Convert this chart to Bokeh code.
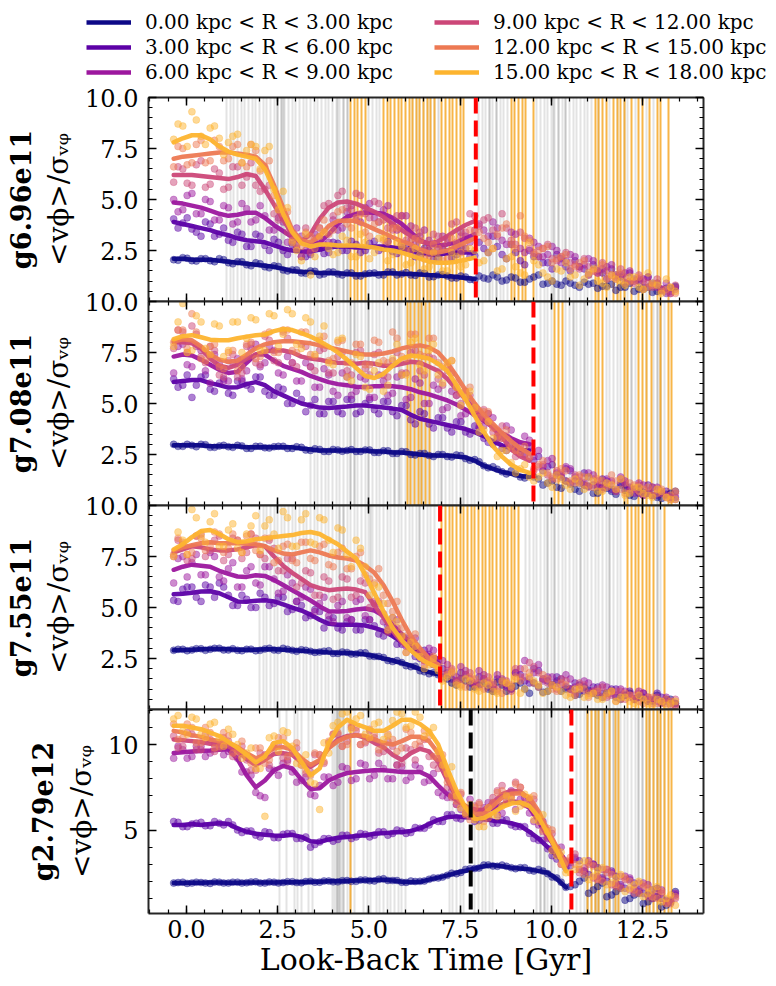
from bokeh.plotting import figure
from bokeh.models import (Range1d, LinearAxis, SingleIntervalTicker, Span, Title, Legend, LegendItem,
                          PrintfTickFormatter)
from bokeh.layouts import column
from bokeh.embed import file_html
from bokeh.resources import INLINE

FONT = "DejaVu Serif"
NAN = float("nan")

RADIUS_LABELS = ["0.00 kpc < R < 3.00 kpc", "3.00 kpc < R < 6.00 kpc", "6.00 kpc < R < 9.00 kpc",
                 "9.00 kpc < R < 12.00 kpc", "12.00 kpc < R < 15.00 kpc", "15.00 kpc < R < 18.00 kpc"]
COLORS = ["#0d0887", "#5c01a6", "#9c179e", "#cc4778", "#ed7953", "#fdb42f"]
GALAXIES = ["g6.96e11", "g7.08e11", "g7.55e11", "g2.79e12"]
X_LABEL = "Look-Back Time [Gyr]"
Y_LABEL = "<vϕ>/σᵥᵩ"

# snapshot times of the smoothed curves and of the first set of points
TIME = [-0.35, -0.10, 0.15, 0.40, 0.65, 0.90, 1.15, 1.40, 1.65, 1.90, 2.15, 2.40, 2.65, 2.90,
        3.15, 3.40, 3.65, 3.90, 4.15, 4.40, 4.65, 4.90, 5.15, 5.40, 5.65, 5.90, 6.15, 6.40,
        6.65, 6.90, 7.15, 7.40, 7.65, 7.90, 8.15, 8.40, 8.65, 8.90, 9.15, 9.40, 9.65, 9.90,
        10.15, 10.40, 10.65, 10.90, 11.15, 11.40, 11.65, 11.90, 12.15, 12.40, 12.65, 12.90,
        13.15, 13.40]
# snapshot times of the intermediate points
TIME_MID = [-0.23, 0.02, 0.27, 0.52, 0.77, 1.02, 1.27, 1.52, 1.77, 2.02, 2.27, 2.52, 2.77, 3.02,
            3.27, 3.52, 3.77, 4.02, 4.27, 4.52, 4.77, 5.02, 5.27, 5.52, 5.77, 6.02, 6.27, 6.52,
            6.77, 7.02, 7.27, 7.52, 7.77, 8.02, 8.27, 8.52, 8.77, 9.02, 9.27, 9.52, 9.77, 10.02,
            10.27, 10.52, 10.77, 11.02, 11.27, 11.52, 11.77, 12.02, 12.27, 12.52, 12.77, 13.02, 13.27]

# ---------------- panel 1 : g6.96e11 ----------------
P1_L0 = [2.1, 2.1, 2.05, 2.05, 2.05, 2.0, 1.95, 1.9, 1.85, 1.8, 1.75, 1.7, 1.6, 1.5, 1.45, 1.45, 1.4, 1.4, 1.38, 1.35, 1.32, 1.32, 1.35, 1.38, 1.38, 1.36, 1.35, 1.33, 1.3, 1.28, 1.25, 1.2, 1.15, 1.1]
P1_L1 = [3.9, 3.8, 3.7, 3.6, 3.5, 3.35, 3.25, 3.1, 3.0, 2.95, 2.9, 2.75, 2.6, 2.5, 2.45, 2.45, 2.55, 2.65, 2.7, 2.7, 2.65, 2.65, 2.7, 2.7, 2.65, 2.6, 2.5, 2.4, 2.3, 2.3, 2.35, 2.4, 2.4, 2.4]
P1_L2 = [4.85, 4.8, 4.7, 4.6, 4.45, 4.3, 4.2, 4.25, 4.35, 4.35, 4.1, 3.75, 3.45, 3.15, 2.9, 2.75, 2.9, 3.3, 3.8, 4.15, 4.3, 4.35, 4.35, 4.3, 4.1, 3.8, 3.4, 3.0, 2.8, 2.75, 2.8, 2.9, 3.1, 3.3]
P1_L3 = [6.2, 6.2, 6.2, 6.15, 6.1, 6.05, 6.0, 6.1, 6.25, 6.15, 5.5, 4.75, 4.0, 3.3, 2.95, 3.3, 4.05, 4.6, 4.85, 4.9, 4.8, 4.6, 4.4, 4.15, 3.8, 3.5, 3.2, 2.95, 2.85, 2.95, 3.2, 3.5, 3.75, 3.95]
P1_L4 = [7.0, 7.1, 7.15, 7.2, 7.25, 7.3, 7.32, 7.25, 7.2, 7.1, 6.7, 5.7, 4.6, 3.5, 3.0, 2.9, 3.2, 3.7, 3.95, 3.97, 3.95, 3.75, 3.55, 3.35, 3.15, 2.95, 2.8, 2.55, 2.4, 2.4, 2.5, 2.7, 2.9, 3.1]
P1_L5 = [7.8, 8.0, 8.15, 8.15, 7.95, 7.6, 7.35, 7.2, 7.1, 7.0, 6.5, 5.5, 4.3, 3.4, 2.85, 2.7, 2.8, 2.8, 2.75, 2.75, 2.75, 2.7, 2.65, 2.55, 2.5, 2.4, 2.25, 2.1, 1.95, 1.9, 1.9, 1.95, 2.05, 2.15]
P1_S0 = [2.05, 2.15, 2.0, 2.1, 2.0, 2.1, 1.9, 1.95, 1.8, 1.9, 1.7, 1.75, 1.55, 1.55, 1.4, 1.5, 1.3, 1.45, 1.35, 1.4, 1.25, 1.35, 1.4, 1.3, 1.45, 1.35, 1.3, 1.4, 1.2, 1.3, 1.25, 1.15, 1.2, 1.05,
         1.15, 1.3, 1.0, 1.2, 0.95, 1.1, 1.3, 0.9, 0.85, 1.0, 0.8, 0.95, 0.9, 0.75, 0.85, 0.7, 0.9, 0.6, 0.7, 0.5, 0.65, 0.75]
P1_S1 = [4.05, 3.85, 3.55, 3.2, 3.8, 3.3, 3.0, 3.4, 2.7, 3.3, 2.75, 3.05, 2.5, 2.8, 2.2, 2.3, 2.6, 2.4, 2.85, 2.5, 2.8, 2.5, 2.95, 2.6, 2.45, 2.8, 2.6, 2.2, 2.5, 2.1, 2.45, 2.3, 2.6, 2.25,
         2.6, 3.2, 2.3, 2.8, 2.0, 2.5, 2.2, 1.9, 2.3, 1.7, 2.0, 1.6, 1.8, 1.4, 1.6, 1.2, 1.4, 1.0, 1.2, 0.9, 0.4, 0.7]
P1_S2 = [5.0, 4.5, 5.3, 4.3, 4.9, 4.0, 4.6, 3.9, 4.55, 4.0, 4.2, 3.5, 3.9, 2.9, 3.2, 2.6, 3.2, 2.9, 3.5, 4.4, 4.0, 4.6, 4.1, 4.5, 3.8, 4.2, 3.7, 3.2, 3.0, 2.6, 3.1, 2.7, 3.2, 3.5,
         3.5, 3.9, 3.0, 3.4, 2.6, 3.1, 2.7, 2.3, 2.5, 2.0, 2.2, 1.8, 2.0, 1.6, 1.8, 1.3, 1.5, 1.1, 1.2, 0.7, 0.9, 0.6]
P1_S3 = [5.85, 6.5, 5.7, 6.9, 5.75, 6.3, 5.6, 6.6, 6.1, 5.7, 5.5, 4.3, 4.1, 3.2, 2.2, 2.4, 3.6, 4.8, 5.2, 4.6, 5.3, 4.3, 4.9, 4.0, 3.5, 4.2, 3.0, 3.4, 2.6, 3.2, 2.9, 3.9, 3.4, 4.2,
         4.0, 3.5, 4.3, 3.0, 3.4, 2.6, 2.2, 2.8, 2.0, 2.4, 1.8, 2.1, 1.5, 1.9, 1.3, 1.6, 1.0, 1.3, 0.9, 1.1, 0.5, 0.8]
P1_S4 = [6.6, 7.5, 6.8, 7.9, 6.9, 7.6, 7.0, 7.7, 6.6, 7.4, 6.6, 5.2, 4.3, 3.0, 2.7, 3.2, 3.6, 3.3, 4.4, 3.8, 4.1, 3.4, 3.8, 3.0, 3.6, 2.8, 2.5, 3.0, 2.2, 2.6, 2.1, 2.9, 2.6, 3.4,
         3.1, 2.6, 3.6, 2.8, 4.2, 3.0, 2.5, 2.7, 2.1, 2.3, 1.7, 2.0, 1.5, 1.8, 1.2, 1.4, 1.0, 1.2, 0.7, 0.9, 0.6, 0.4]
P1_S5 = [7.95, 8.6, 9.3, 8.1, 8.5, 8.0, 7.8, 8.2, 7.4, 7.6, 7.4, 5.5, 5.4, 2.9, 2.0, 1.3, 3.2, 2.6, 2.4, 3.0, 2.2, 2.9, 2.4, 3.1, 2.3, 2.7, 1.9, 2.3, 1.7, 2.1, 1.5, 2.2, 1.8, 2.5,
         2.0, 2.6, 1.6, 2.2, 1.4, 2.9, 1.8, 1.2, 1.6, 1.9, 1.3, 1.1, 1.6, 0.9, 1.3, 1.0, 1.2, 0.7, 1.4, 0.8, 1.1, 0.5]
P1_M0 = [2.02, 2.12, 1.98, 2.1, 1.95, 2.05, 1.85, 1.95, 1.75, 1.85, 1.65, 1.72, 1.5, 1.55, 1.38, 1.48, 1.35, 1.45, 1.3, 1.4, 1.25, 1.38, 1.3, 1.45, 1.3, 1.42, 1.28, 1.38, 1.22, 1.32, 1.15, 1.25, 1.08,
         1.25, 1.1, 1.2, 1.05, 1.15, 0.95, 1.2, 0.85, 1.0, 0.8, 0.9, 0.7, 0.85, 0.65, 0.75, 0.55, 0.7, 0.5, 0.6, 0.45, 0.55, 0.65]
P1_M1 = [3.6, 4.1, 3.4, 3.9, 3.2, 3.6, 2.9, 3.3, 2.7, 3.2, 2.5, 2.9, 2.3, 2.75, 2.2, 2.7, 2.35, 2.9, 2.5, 2.95, 2.4, 2.85, 2.5, 2.95, 2.35, 2.8, 2.2, 2.6, 2.05, 2.55, 2.15, 2.65, 2.2,
         2.9, 2.4, 2.7, 2.1, 2.4, 1.8, 2.2, 1.9, 1.6, 2.1, 1.5, 1.7, 1.3, 1.5, 1.1, 1.3, 0.9, 1.1, 0.7, 0.9, 0.6, 0.5]
P1_M2 = [4.4, 5.2, 4.3, 5.0, 4.0, 4.7, 3.8, 4.8, 3.9, 4.7, 3.5, 4.1, 2.9, 3.6, 2.5, 3.3, 2.8, 4.0, 3.6, 4.7, 3.9, 4.8, 3.9, 4.7, 3.5, 4.2, 2.8, 3.5, 2.4, 3.2, 2.5, 3.4, 2.9,
         3.8, 3.2, 3.6, 2.8, 3.3, 2.4, 2.9, 2.2, 2.7, 1.9, 2.3, 1.7, 2.1, 1.4, 1.7, 1.2, 1.4, 1.0, 1.1, 0.8, 0.6, 0.4]
P1_M3 = [6.6, 5.8, 6.7, 5.6, 6.5, 5.5, 6.6, 5.7, 6.8, 5.4, 5.7, 4.0, 3.4, 2.6, 3.6, 3.1, 4.7, 4.2, 5.4, 4.5, 5.2, 4.1, 4.8, 3.6, 4.2, 3.0, 3.6, 2.5, 3.3, 2.7, 3.8, 3.2, 4.3,
         3.7, 4.1, 3.2, 3.6, 2.8, 3.1, 2.4, 2.6, 2.1, 2.2, 1.9, 1.6, 1.7, 1.4, 1.5, 1.1, 1.2, 0.9, 1.0, 0.7, 0.6, 0.4]
P1_M4 = [7.6, 6.7, 7.7, 6.8, 7.9, 6.9, 7.6, 6.8, 7.7, 6.4, 6.9, 4.7, 4.4, 2.8, 3.4, 2.6, 4.0, 3.5, 4.5, 3.6, 4.3, 3.2, 3.9, 2.9, 3.6, 2.5, 3.1, 2.1, 2.8, 2.0, 3.1, 2.4, 3.5,
         3.4, 2.9, 3.3, 3.8, 2.6, 3.2, 2.3, 2.6, 1.9, 2.2, 1.6, 1.9, 1.3, 1.6, 1.1, 1.3, 0.9, 1.0, 0.6, 0.8, 0.5, 0.7]
P1_M5 = [8.7, 7.6, 8.9, 7.7, 8.6, 7.2, 8.1, 6.8, 7.7, 6.5, 7.6, 4.5, 4.6, 2.5, 3.3, 2.2, 3.4, 2.3, 3.2, 2.2, 3.3, 2.1, 3.1, 2.0, 2.9, 1.8, 2.6, 1.6, 2.4, 1.5, 2.4, 1.7, 2.6,
         1.9, 2.4, 1.5, 2.1, 1.7, 1.3, 2.0, 1.4, 1.0, 1.5, 1.2, 0.8, 1.4, 1.0, 0.7, 1.1, 0.8, 1.2, 0.6, 0.9, 0.4, 0.7]
P1_GREY = [1.1, 1.2, 1.3, 1.4, 1.5, 1.6, 1.7, 1.8, 1.9, 2.0, 2.1, 2.2, 2.3, 2.4, 2.5, 2.6, 2.7, 2.8, 2.9, 3.0, 3.1, 3.2, 3.3, 3.4, 3.5, 3.6, 3.7, 3.8, 3.9, 4.0, 4.1, 4.2, 4.3, 4.4,
           5.0, 5.1, 5.2, 5.3, 6.2, 6.3, 6.4, 6.5, 6.6, 6.7, 6.8, 8.0, 8.1, 8.2, 8.3, 8.4, 8.5, 8.6, 8.7, 8.8, 9.6, 9.7, 9.8, 9.9, 10.0,
           10.1, 10.2, 10.3, 10.4, 10.5, 10.6, 10.7, 10.8, 10.9, 11.0, 11.1, 11.6, 11.8, 12.1, 12.3, 12.6, 12.8]
P1_DARK = [2.5, 2.6, 2.65, 4.15, 4.3, 4.4, 6.9, 8.3, 8.5, 10.05, 10.2, 10.4, 11.3, 12.0]
P1_ORANGE = [4.5, 4.6, 4.7, 4.8, 4.9, 5.4, 5.5, 5.6, 5.7, 5.8, 5.9, 6.0, 6.1, 6.2, 6.3, 6.4, 6.5, 6.6, 6.7, 6.8, 7.0, 7.1, 7.2, 7.3, 7.4, 7.5, 7.6,
             8.9, 9.0, 9.1, 9.2, 9.3, 9.5, 11.2, 11.3, 11.4, 11.5, 11.7, 11.8, 11.9, 12.0, 12.2, 12.4, 12.5, 12.7, 12.9, 13.0, 13.2]

# ---------------- panel 2 : g7.08e11 ----------------
P2_L0 = [2.95, 2.95, 2.95, 2.95, 2.9, 2.9, 2.9, 2.9, 2.85, 2.85, 2.85, 2.85, 2.85, 2.85, 2.8, 2.75, 2.7, 2.7, 2.7, 2.7, 2.7, 2.7, 2.65, 2.65, 2.6, 2.6, 2.55, 2.5, 2.45, 2.45, 2.45, 2.4, 2.35, 2.2, 1.95, 1.8, 1.65, 1.55, 1.45, 1.4]
P2_L1 = [6.05, 6.1, 6.15, 6.15, 6.0, 5.9, 5.78, 5.8, 5.95, 6.05, 5.9, 5.6, 5.4, 5.2, 5.0, 4.9, 4.8, 4.78, 4.82, 4.85, 4.9, 4.9, 4.85, 4.8, 4.75, 4.68, 4.45, 4.25, 4.15, 4.05, 3.95, 3.85, 3.75, 3.6, 3.4, 3.15, 2.95, 2.8, 2.72, 2.7]
P2_L2 = [7.3, 7.4, 7.35, 7.15, 6.9, 6.65, 6.5, 6.55, 7.0, 7.4, 7.4, 7.1, 6.85, 6.7, 6.55, 6.35, 6.2, 6.05, 5.95, 5.9, 5.82, 5.8, 5.85, 5.85, 5.85, 5.8, 5.7, 5.55, 5.45, 5.3, 5.15, 4.95, 4.7, 4.45, 4.15, 3.85, 3.55, 3.3, 3.1, 3.0]
P2_L3 = [8.0, 8.0, 7.95, 7.7, 7.2, 6.85, 6.75, 6.9, 7.2, 7.4, 7.55, 7.6, 7.6, 7.5, 7.3, 7.2, 7.15, 7.05, 7.0, 6.98, 6.95, 7.0, 6.95, 6.85, 6.85, 6.95, 7.05, 7.0, 6.8, 6.6, 6.2, 5.7, 5.2, 4.7, 4.25, 3.8, 3.35, 2.75, 2.4, 2.2]
P2_L4 = [8.05, 8.15, 8.1, 7.8, 7.4, 7.15, 7.05, 7.1, 7.4, 7.7, 7.9, 8.0, 8.05, 8.05, 8.0, 7.95, 7.85, 7.75, 7.65, 7.55, 7.45, 7.4, 7.4, 7.45, 7.55, 7.7, 7.8, 7.85, 7.75, 7.5, 7.0, 6.35, 5.65, 5.0, 4.45, 4.0, 3.55, 3.15, 2.8, 2.55]
P2_L5 = [8.15, 8.3, 8.35, 8.25, 8.13, 8.1, 8.1, 8.2, 8.28, 8.35, 8.38, 8.55, 8.65, 8.6, 8.45, 8.28, 8.05, 7.8, 7.5, 7.15, 6.75, 6.35, 6.25, 6.45, 6.85, 7.2, 7.35, 7.3, 7.2, 6.95, 6.6, 5.9, 5.2, 4.4, 3.6, 2.9, 2.4, 2.0, 1.75, 1.6]
P2_S0 = [3.0, 2.9, 2.95, 3.0, 2.85, 2.92, 2.88, 2.95, 2.8, 2.9, 2.83, 2.88, 2.9, 2.8, 2.85, 2.7, 2.75, 2.65, 2.72, 2.7, 2.65, 2.72, 2.6, 2.68, 2.55, 2.65, 2.5, 2.55, 2.45, 2.5, 2.4, 2.48, 2.3, 2.25, 1.95, 1.9, 1.65, 1.7, 1.4, 1.5,
         1.3, 1.1, 0.9, 1.2, 0.8, 1.0, 0.6, 0.9, 0.7, 1.0, 0.5, 0.8, 0.6, 0.4, 0.55, 0.7]
P2_S1 = [6.2, 5.9, 5.3, 6.3, 5.7, 6.0, 5.5, 6.1, 5.9, 6.3, 5.6, 5.4, 5.7, 5.0, 5.2, 4.9, 4.5, 5.1, 4.6, 5.2, 4.5, 5.0, 4.7, 5.1, 4.6, 4.9, 4.2, 4.6, 4.0, 4.3, 3.8, 4.1, 3.6, 3.9, 3.3, 3.0, 2.8, 3.1, 2.6, 2.9,
         2.4, 1.9, 1.5, 1.8, 1.2, 1.6, 1.0, 1.3, 0.8, 1.1, 0.9, 0.6, 1.0, 0.5, 0.7, 0.4]
P2_S2 = [6.5, 7.9, 6.8, 7.6, 6.0, 7.0, 6.1, 7.2, 6.6, 7.9, 7.0, 7.6, 6.4, 7.0, 6.1, 6.8, 5.8, 6.4, 5.4, 6.3, 5.6, 6.2, 5.3, 6.1, 5.5, 6.4, 5.3, 6.0, 5.0, 5.7, 4.8, 5.4, 4.5, 4.8, 3.9, 4.3, 3.3, 3.7, 2.9, 3.2,
         2.7, 2.2, 1.6, 1.9, 1.4, 1.1, 1.5, 0.9, 1.2, 1.4, 0.8, 1.1, 0.7, 0.9, 0.5, 0.3]
P2_S3 = [7.7, 8.5, 8.8, 7.3, 7.8, 6.4, 7.1, 6.3, 7.8, 7.0, 8.3, 7.1, 8.5, 7.0, 7.9, 6.8, 7.6, 6.5, 7.3, 6.6, 7.5, 6.7, 7.4, 6.4, 7.1, 6.5, 7.5, 6.6, 7.3, 6.2, 6.6, 5.4, 5.6, 4.5, 4.7, 3.6, 3.9, 2.8, 2.7, 2.3,
         1.9, 1.5, 1.7, 1.2, 1.5, 1.0, 1.3, 0.8, 1.1, 1.3, 0.7, 1.0, 0.6, 0.8, 0.4, 0.6]
P2_S4 = [8.0, 8.6, 9.4, 7.2, 7.8, 6.8, 7.5, 6.6, 7.9, 7.2, 8.4, 7.5, 8.6, 7.6, 8.5, 7.4, 8.1, 7.1, 8.0, 7.0, 7.9, 6.9, 8.1, 7.1, 8.5, 7.3, 8.4, 7.4, 8.2, 7.0, 6.8, 6.0, 5.4, 4.7, 4.6, 3.8, 3.3, 2.9, 2.6, 2.4,
         2.0, 1.6, 1.3, 1.7, 1.1, 1.4, 0.9, 1.2, 1.5, 0.8, 1.1, 0.7, 0.9, 0.6, 0.4, 0.7]
P2_S5 = [7.8, 9.9, 7.6, 9.0, 7.4, 8.8, 7.6, 9.0, 8.2, 9.1, 7.6, 9.3, 8.4, 9.4, 7.7, 9.0, 8.3, 7.0, 8.1, 6.3, 7.4, 5.8, 6.6, 5.6, 7.2, 6.4, 8.0, 6.9, 7.6, 6.4, 7.0, 5.8, 5.3, 4.8, 3.7, 3.3, 2.7, 2.1, 1.8, 1.4,
         1.4, 1.1, 1.5, 1.0, 1.3, 0.8, 1.2, 0.7, 1.0, 1.3, 0.6, 0.9, 0.5, 0.8, 0.4, 0.3]
P2_M0 = [2.9, 3.0, 2.88, 2.98, 2.85, 2.95, 2.85, 2.92, 2.8, 2.9, 2.82, 2.9, 2.8, 2.88, 2.72, 2.78, 2.65, 2.75, 2.66, 2.74, 2.65, 2.72, 2.6, 2.68, 2.55, 2.63, 2.48, 2.55, 2.4, 2.5, 2.38, 2.45, 2.22, 2.15, 1.85, 1.78, 1.55, 1.55, 1.35,
         1.4, 1.0, 1.2, 0.85, 1.05, 0.7, 0.95, 0.6, 0.85, 0.55, 0.75, 0.45, 0.65, 0.5, 0.35, 0.6]
P2_M1 = [5.8, 6.4, 5.9, 6.4, 5.6, 6.2, 5.4, 6.1, 5.7, 6.3, 5.4, 5.8, 5.0, 5.5, 4.6, 5.2, 4.5, 5.1, 4.5, 5.2, 4.6, 5.2, 4.5, 5.1, 4.4, 4.9, 4.0, 4.5, 3.8, 4.3, 3.6, 4.1, 3.5, 3.8, 3.1, 3.3, 2.7, 3.0, 2.5,
         2.2, 1.7, 2.0, 1.4, 1.7, 1.1, 1.4, 0.9, 1.2, 0.7, 1.0, 0.8, 0.5, 0.9, 0.6, 0.4]
P2_M2 = [7.8, 6.9, 7.8, 6.6, 7.4, 6.1, 7.0, 6.2, 7.7, 6.8, 7.8, 6.5, 7.3, 6.1, 7.0, 5.8, 6.7, 5.6, 6.5, 5.4, 6.3, 5.3, 6.4, 5.4, 6.3, 5.2, 6.2, 5.0, 5.9, 4.7, 5.6, 4.4, 5.1, 3.9, 4.5, 3.4, 3.9, 2.9, 3.4,
         2.4, 1.9, 2.3, 1.5, 1.8, 1.2, 1.6, 1.0, 1.3, 0.8, 1.2, 0.6, 1.0, 0.5, 0.7, 0.4]
P2_M3 = [8.6, 7.5, 8.4, 7.0, 7.6, 6.3, 7.4, 6.5, 7.9, 6.9, 8.1, 7.0, 8.2, 6.8, 7.8, 6.6, 7.7, 6.5, 7.5, 6.4, 7.6, 6.4, 7.5, 6.3, 7.5, 6.5, 7.6, 6.4, 7.2, 5.9, 6.5, 5.0, 5.4, 4.1, 4.5, 3.3, 3.4, 2.4, 2.5,
         1.7, 2.0, 1.3, 1.6, 1.1, 1.4, 0.9, 1.2, 1.0, 0.7, 1.1, 0.8, 0.5, 0.9, 0.6, 0.3]
P2_M4 = [8.6, 7.7, 8.5, 7.1, 7.9, 6.7, 7.6, 6.8, 8.0, 7.3, 8.5, 7.5, 8.6, 7.5, 8.5, 7.3, 8.3, 7.2, 8.1, 7.0, 7.9, 6.9, 8.0, 7.0, 8.2, 7.2, 8.4, 7.3, 8.2, 6.8, 7.1, 5.5, 5.8, 4.3, 4.6, 3.4, 3.7, 2.7, 2.9,
         1.8, 2.2, 1.4, 1.8, 1.2, 1.5, 1.0, 1.3, 0.9, 1.2, 0.6, 1.0, 0.8, 0.5, 0.8, 0.5]
P2_M5 = [9.0, 7.5, 9.3, 7.7, 8.9, 7.3, 9.0, 7.5, 9.2, 7.6, 9.4, 7.8, 9.6, 7.9, 9.2, 7.4, 8.8, 6.9, 8.2, 6.1, 7.3, 5.7, 7.0, 5.9, 7.9, 6.4, 8.2, 6.6, 7.9, 6.0, 7.1, 4.9, 5.6, 3.6, 4.1, 2.4, 2.7, 1.6, 2.0,
         1.2, 1.6, 0.9, 1.3, 0.8, 1.1, 1.4, 0.7, 1.1, 0.8, 0.5, 0.9, 0.6, 0.4, 0.7, 0.3]
P2_GREY = [3.4, 3.5, 3.6, 3.7, 3.8, 3.9, 4.0, 4.1, 4.2, 4.3, 4.4, 4.5, 4.6, 4.7, 4.8, 4.9, 5.0, 5.1, 5.2, 5.3, 5.4, 5.5, 5.6, 5.7, 5.8, 5.9, 6.0, 6.1, 6.2, 6.3,
           6.4, 6.5, 6.6, 6.7, 6.8, 6.9, 7.0, 7.1, 7.2, 7.3, 7.4, 7.5, 7.6, 7.7, 7.8, 7.9, 8.0, 8.1, 9.7, 9.8, 9.9, 10.0, 10.4, 10.5, 10.6, 10.7, 10.8, 10.9,
           11.0, 11.1, 11.5, 11.6, 11.7, 11.8, 11.9, 12.0, 12.1, 12.2, 12.3, 12.6, 12.8, 12.9, 13.0, 13.1]
P2_DARK = [4.5, 4.6, 5.0, 5.7, 5.85, 6.45, 7.0, 7.6, 10.6, 10.9, 12.2, 12.9, 13.0]
P2_ORANGE = [6.05, 6.15, 6.25, 6.35, 6.45, 6.55, 6.65, 10.1, 10.2, 10.3, 11.2, 11.3, 11.4, 12.0, 12.1, 12.4, 12.5, 12.6, 12.75, 13.0, 13.2, 13.3]

# ---------------- panel 3 : g7.55e11 ----------------
P3_L0 = [2.9, 2.92, 2.93, 2.95, 2.97, 2.97, 2.95, 2.93, 2.93, 2.93, 2.95, 2.95, 2.93, 2.9, 2.88, 2.85, 2.83, 2.8, 2.78, 2.77, 2.75, 2.7, 2.62, 2.5, 2.4, 2.28, 2.15, 1.98, 1.83, 1.72]
P3_L1 = [5.65, 5.68, 5.72, 5.78, 5.8, 5.7, 5.5, 5.3, 5.28, 5.33, 5.36, 5.3, 5.15, 5.0, 4.85, 4.65, 4.4, 4.2, 4.15, 4.15, 4.15, 4.12, 4.0, 3.85, 3.6, 3.3, 3.0, 2.7, 2.45, 2.3]
P3_L2 = [6.85, 7.0, 7.1, 7.05, 7.0, 6.8, 6.65, 6.52, 6.5, 6.58, 6.55, 6.35, 6.1, 5.85, 5.6, 5.35, 5.05, 4.82, 4.8, 4.83, 4.9, 4.95, 4.85, 4.6, 4.15, 3.7, 3.25, 2.9, 2.65, 2.5]
P3_L3 = [7.7, 7.85, 8.0, 7.95, 7.85, 7.8, 7.8, 7.85, 7.95, 8.05, 8.0, 7.5, 7.05, 6.7, 6.4, 6.1, 5.95, 5.85, 5.9, 5.93, 5.88, 5.75, 5.1, 4.5, 3.85, 3.3, 2.9, 2.6, 2.35, 2.2]
P3_L4 = [7.8, 7.95, 8.05, 8.15, 8.2, 8.15, 8.15, 8.15, 8.12, 8.1, 8.0, 7.8, 7.65, 7.6, 7.7, 7.8, 7.7, 7.55, 7.45, 7.4, 7.3, 7.05, 6.7, 6.1, 5.3, 4.4, 3.6, 3.0, 2.5, 2.2]
P3_L5 = [7.85, 8.1, 8.45, 8.75, 8.8, 8.6, 8.35, 8.2, 8.25, 8.35, 8.4, 8.45, 8.5, 8.55, 8.65, 8.7, 8.6, 8.35, 8.1, 7.75, 7.4, 6.6, 5.7, 4.8, 4.0, 3.4, 2.9, 2.5, 2.25, 2.05]
P3_S0 = [2.9, 2.95, 2.92, 2.98, 2.95, 3.0, 2.92, 2.9, 2.95, 2.88, 2.97, 2.92, 3.0, 2.9, 2.93, 2.85, 2.82, 2.88, 2.75, 2.8, 2.72, 2.78, 2.6, 2.55, 2.35, 2.3, 2.1, 1.9, 1.75, 1.7,
         1.5, 1.2, 1.4, 1.1, 1.3, 0.9, 1.2, 1.0, 1.3, 0.8, 1.1, 0.9, 1.4, 1.0, 0.7, 1.1, 0.8, 0.6, 0.9, 0.5, 0.8, 0.6, 0.4, 0.7, 0.5, 0.3]
P3_S1 = [5.35, 5.9, 6.0, 5.3, 6.0, 6.2, 5.6, 5.1, 5.4, 5.0, 5.5, 5.2, 5.5, 4.9, 5.1, 4.6, 4.8, 4.4, 4.0, 4.3, 3.9, 4.4, 4.1, 3.6, 3.8, 3.2, 3.1, 2.5, 2.7, 2.1,
         1.8, 1.4, 1.7, 1.2, 1.5, 1.0, 1.4, 1.1, 1.7, 1.3, 1.9, 1.4, 1.6, 1.1, 1.3, 0.9, 1.1, 0.8, 1.0, 0.7, 0.9, 0.6, 0.5, 0.8, 0.4, 0.3]
P3_S2 = [6.2, 7.5, 7.2, 6.6, 7.7, 6.5, 6.9, 6.0, 6.8, 6.2, 7.0, 6.4, 5.8, 6.2, 5.5, 5.9, 5.2, 4.6, 5.1, 4.5, 5.3, 4.6, 5.2, 4.3, 4.5, 3.6, 3.4, 2.8, 3.0, 2.4,
         2.2, 1.6, 1.9, 1.3, 1.7, 1.2, 1.5, 1.0, 2.0, 1.5, 2.2, 1.6, 1.3, 1.7, 1.1, 1.4, 0.9, 1.2, 0.8, 1.0, 0.7, 0.9, 0.6, 0.4, 0.6, 0.2]
P3_S3 = [7.5, 8.1, 7.4, 8.6, 7.8, 8.5, 7.6, 8.3, 7.7, 8.4, 7.4, 7.9, 6.8, 7.4, 6.2, 6.7, 5.6, 6.3, 5.5, 6.4, 5.6, 6.2, 5.3, 4.7, 4.2, 3.5, 3.2, 2.6, 2.4, 2.1,
         1.9, 1.4, 1.7, 1.2, 1.5, 1.1, 1.3, 0.9, 1.6, 2.3, 1.8, 1.3, 1.0, 1.4, 0.8, 1.2, 0.9, 1.1, 0.7, 0.9, 0.6, 0.8, 0.4, 0.6, 0.3, 0.5]
P3_S4 = [7.6, 8.2, 7.7, 8.4, 8.0, 8.6, 7.9, 8.3, 8.5, 7.8, 8.4, 7.2, 8.0, 7.3, 8.2, 7.4, 8.0, 7.1, 7.7, 6.9, 7.5, 6.6, 6.2, 5.6, 4.8, 4.0, 3.4, 2.8, 2.3, 2.0,
         1.7, 1.3, 1.1, 1.5, 1.0, 1.3, 0.8, 1.2, 1.4, 1.8, 1.1, 1.5, 0.9, 1.2, 0.7, 1.0, 0.8, 0.6, 0.9, 0.5, 0.7, 0.4, 0.6, 0.3, 0.5, 0.2]
P3_S5 = [7.5, 8.3, 9.8, 8.5, 9.2, 8.0, 8.8, 7.9, 8.6, 9.5, 9.0, 8.6, 9.7, 8.0, 9.3, 8.2, 9.4, 8.3, 8.9, 7.6, 8.3, 7.0, 6.1, 5.2, 4.5, 3.6, 3.3, 2.6, 2.2, 1.9,
         1.6, 1.2, 1.5, 1.0, 1.3, 0.9, 1.4, 1.1, 0.8, 1.6, 1.2, 0.9, 1.1, 0.7, 1.0, 0.6, 0.8, 0.5, 0.9, 0.6, 0.4, 0.7, 0.3, 0.5, 0.2, 0.4]
P3_M0 = [2.95, 2.88, 2.98, 2.9, 3.0, 2.92, 2.98, 2.88, 2.96, 2.9, 3.0, 2.9, 2.95, 2.85, 2.9, 2.8, 2.86, 2.75, 2.82, 2.72, 2.78, 2.62, 2.6, 2.4, 2.4, 2.15, 2.12, 1.85, 1.8,
         1.6, 1.3, 1.5, 1.1, 1.2, 1.0, 1.35, 0.9, 1.15, 1.0, 1.3, 0.85, 1.2, 0.9, 1.0, 0.75, 0.95, 0.7, 0.8, 0.6, 0.7, 0.5, 0.6, 0.45, 0.35, 0.5]
P3_M1 = [5.3, 6.0, 5.5, 6.1, 5.5, 6.0, 5.1, 5.6, 5.0, 5.7, 5.1, 5.5, 4.8, 5.3, 4.5, 4.9, 4.0, 4.5, 3.9, 4.4, 3.9, 4.4, 3.7, 4.1, 3.2, 3.5, 2.6, 2.9, 2.2,
         2.0, 1.5, 1.8, 1.3, 1.6, 1.1, 1.5, 1.2, 1.8, 1.4, 2.0, 1.5, 1.2, 1.5, 1.0, 1.2, 0.9, 1.1, 0.8, 1.0, 0.7, 0.5, 0.8, 0.4, 0.6, 0.3]
P3_M2 = [7.4, 6.5, 7.6, 6.6, 7.5, 6.3, 7.2, 6.0, 7.0, 6.1, 7.0, 5.7, 6.6, 5.3, 6.0, 4.8, 5.5, 4.3, 5.3, 4.4, 5.4, 4.4, 5.2, 3.9, 4.4, 3.1, 3.5, 2.4, 2.9,
         2.4, 1.8, 2.1, 1.5, 1.9, 1.3, 1.7, 1.1, 1.8, 2.4, 1.8, 1.4, 1.6, 1.2, 1.5, 1.0, 1.3, 0.8, 1.1, 0.7, 0.9, 0.5, 0.8, 0.5, 0.3, 0.4]
P3_M3 = [8.3, 7.3, 8.5, 7.5, 8.3, 7.3, 8.4, 7.4, 8.6, 7.6, 8.3, 6.8, 7.4, 6.0, 6.8, 5.6, 6.5, 5.4, 6.5, 5.5, 6.3, 5.0, 5.3, 3.8, 4.0, 2.8, 3.1, 2.2, 2.5,
         1.7, 2.0, 1.5, 1.8, 1.3, 1.6, 1.0, 1.4, 2.0, 1.6, 2.1, 1.5, 1.2, 1.5, 1.0, 1.3, 0.8, 1.0, 0.6, 0.9, 0.5, 0.7, 0.5, 0.3, 0.4, 0.2]
P3_M4 = [8.4, 7.6, 8.5, 7.8, 8.7, 7.7, 8.6, 7.7, 8.6, 7.6, 8.4, 7.3, 8.1, 7.2, 8.2, 7.3, 8.1, 7.0, 7.9, 6.9, 7.7, 6.4, 6.9, 5.2, 5.3, 3.6, 3.7, 2.4, 2.6,
         1.5, 1.9, 1.2, 1.6, 1.1, 1.4, 0.9, 1.3, 1.6, 2.0, 1.3, 1.7, 1.0, 1.3, 0.8, 1.1, 0.6, 0.9, 0.7, 0.4, 0.8, 0.5, 0.3, 0.6, 0.3, 0.4]
P3_M5 = [8.7, 7.6, 9.4, 8.2, 9.6, 8.0, 9.1, 7.7, 9.0, 7.8, 9.3, 7.9, 9.4, 8.0, 9.6, 8.1, 9.3, 7.7, 8.8, 7.0, 7.9, 5.6, 6.0, 3.9, 4.3, 2.8, 3.1, 2.0, 2.5,
         1.4, 1.8, 1.1, 1.4, 0.9, 1.2, 0.8, 1.3, 1.5, 1.0, 1.4, 0.8, 1.2, 0.9, 0.6, 1.0, 0.7, 0.5, 0.8, 0.4, 0.6, 0.3, 0.5, 0.2, 0.4, 0.3]
P3_GREY = [2.0, 2.1, 2.2, 2.3, 2.4, 2.5, 2.6, 2.7, 2.8, 2.9, 3.0, 3.1, 3.2, 3.3, 3.4, 3.5, 3.6, 3.7, 3.8, 3.9, 4.0, 4.1, 4.2, 4.3, 4.4, 4.5, 4.6, 4.7, 4.8, 4.9,
           5.0, 5.1, 5.2, 5.3, 5.4, 5.5, 5.6, 5.7, 5.8, 5.9, 6.0, 6.1, 6.2, 6.3, 6.4, 6.5, 6.6, 6.7, 6.8, 9.3, 9.4, 9.5, 9.6, 9.7, 9.8, 9.9, 10.0,
           10.1, 10.2, 10.3, 10.4, 10.5, 10.6, 10.7, 10.8, 10.9, 11.0, 11.1, 11.2, 11.3, 11.4, 11.5, 11.6, 11.7, 11.8, 11.9, 12.9, 13.0]
P3_DARK = [4.2, 4.3, 5.05, 6.4, 9.9, 10.1, 10.8, 11.6, 12.9]
P3_ORANGE = [7.0, 7.1, 7.2, 7.3, 7.4, 7.5, 7.6, 7.7, 7.8, 7.9, 8.0, 8.1, 8.2, 8.3, 8.4, 8.5, 8.6, 8.7, 8.8, 8.9, 9.0, 9.1,
             12.1, 12.2, 12.3, 12.4, 12.5, 12.6, 12.7, 12.8, 13.1]

# ---------------- panel 4 : g2.79e12 ----------------
P4_L0 = [1.9, 1.9, 1.92, 1.92, 1.93, 1.93, 1.92, 1.92, 1.93, 1.93, 1.93, 1.93, 1.95, 1.95, 1.95, 1.97, 1.98, 2.0, 2.0, 2.02, 2.05, 2.05, 2.08, 2.1, 2.05, 1.98, 1.95, 1.97, 2.1, 2.22, 2.35, 2.5, 2.62, 2.75, 2.88, 2.95, 2.88, 2.8, 2.75, 2.7, 2.6, 2.5, 2.15, 1.65]
P4_L1 = [5.3, 5.3, 5.35, 5.3, 5.35, 5.4, 5.35, 5.1, 4.9, 4.78, 4.72, 4.68, 4.66, 4.72, 4.6, 4.35, 4.3, 4.45, 4.55, 4.6, 4.65, 4.7, 4.78, 4.82, 4.85, 4.88, 4.95, 5.1, 5.35, 5.6, 5.75, 5.8, 5.75, 5.7, 5.65, 5.55, 5.5, 5.4, 5.25, 4.9, 4.5, 4.0, 3.5, 3.0]
P4_L2 = [9.5, 9.55, 9.6, 9.62, 9.65, 9.7, 9.72, 9.15, 8.2, 7.5, 7.9, 8.5, 8.75, 8.6, 7.95, 7.4, 7.45, 7.9, 8.15, 8.33, 8.4, 8.45, 8.5, 8.5, 8.45, 8.4, 8.4, 8.4, 8.15, 7.6, 7.1, 6.75, 6.4, 6.2, 6.15, 6.25, 6.5, 6.7, 6.6, 6.3, 5.5, 4.6, 3.9, 3.2]
P4_L3 = [10.3, 10.25, 10.2, 10.15, 10.05, 10.0, 9.9, 9.6, 9.15, 8.8, 9.1, 9.45, 9.5, 9.4, 8.95, 8.7, 9.05, 9.8, 10.3, 10.5, 10.55, 10.4, 10.1, 9.85, 9.4, 9.1, 9.5, 9.75, 9.6, 9.0, 7.9, 6.9, 6.35, 6.15, 6.2, 6.6, 7.1, 7.3, 7.25, 6.8, 5.9, 4.8, 3.8, 2.9]
P4_L4 = [10.8, 10.7, 10.55, 10.45, 10.3, 10.2, 10.1, 9.85, 9.5, 9.2, 9.4, 9.8, 9.85, 9.7, 9.2, 8.8, 9.1, 9.8, 10.2, 10.45, 10.55, 10.5, 10.3, 10.1, 10.0, 10.2, 10.45, 10.45, 10.2, 9.5, 8.1, 7.0, 6.3, 5.95, 5.95, 6.4, 6.9, 7.12, 7.15, 6.9, 6.1, 5.0, 4.0, 3.0]
P4_L5 = [11.1, 11.1, 11.0, 10.9, 10.7, 10.5, 10.15, 9.8, 9.4, 8.95, 9.3, 10.1, 10.2, 9.8, 9.0, 8.2, 8.6, 10.1, 11.0, 11.45, 11.2, 11.0, 10.8, 10.8, 11.1, 11.45, 11.45, 11.2, 10.8, 10.0, 8.6, 7.3, 6.3, 5.65, 5.7, 6.0, 6.35, 6.55, 6.62, 6.4, 5.75, 4.8, 3.8, 2.6]
P4_S0 = [1.9, 1.95, 1.9, 1.93, 1.88, 1.95, 1.9, 1.95, 1.92, 1.97, 1.9, 1.95, 1.93, 1.98, 1.92, 2.0, 1.95, 2.02, 1.97, 2.05, 2.0, 2.08, 2.02, 2.15, 2.05, 1.95, 2.02, 2.0, 2.12, 2.2, 2.35, 2.45, 2.7, 2.75, 2.95, 2.9, 2.95, 2.8, 2.8, 2.65, 2.7, 2.45, 2.2, 1.65,
         1.8, 2.2, 1.5, 1.9, 1.2, 1.6, 1.0, 1.3, 0.8, 1.1, 0.6, 1.4]
P4_S1 = [5.5, 5.2, 5.35, 5.45, 5.25, 5.4, 5.5, 5.0, 4.95, 4.7, 4.9, 4.55, 4.75, 4.8, 4.5, 4.0, 4.3, 4.5, 4.45, 4.7, 4.6, 4.75, 4.7, 4.9, 4.8, 4.95, 4.85, 5.1, 5.3, 5.5, 5.9, 5.7, 5.85, 5.5, 5.7, 5.4, 5.6, 5.3, 5.2, 4.8, 4.4, 3.9, 3.3, 2.8,
         3.3, 2.6, 3.0, 2.2, 2.6, 1.8, 2.1, 1.5, 1.2, 1.6, 0.9, 1.2]
P4_S2 = [9.2, 9.7, 9.3, 9.9, 9.5, 10.0, 9.6, 9.2, 8.4, 7.2, 6.9, 8.5, 8.9, 8.4, 7.9, 7.1, 7.6, 8.1, 7.8, 8.6, 8.0, 8.8, 8.2, 8.6, 8.0, 8.7, 8.1, 8.6, 7.9, 7.2, 6.9, 6.5, 6.0, 5.7, 6.3, 6.6, 6.0, 7.3, 6.8, 6.0, 5.3, 4.5, 3.6, 3.0,
         3.4, 2.6, 3.0, 2.1, 2.5, 1.7, 2.2, 1.4, 1.8, 1.1, 0.8, 1.3]
P4_S3 = [10.5, 9.9, 10.6, 9.7, 10.3, 9.8, 10.2, 9.4, 9.1, 8.5, 9.4, 9.8, 9.2, 9.7, 8.8, 8.4, 9.4, 10.1, 10.6, 10.2, 10.8, 10.1, 10.4, 9.6, 9.9, 8.9, 9.7, 9.9, 9.3, 8.6, 7.5, 6.5, 6.0, 6.4, 6.0, 6.9, 7.6, 7.0, 7.5, 6.5, 5.8, 4.6, 3.9, 3.1,
         3.6, 2.8, 2.2, 2.7, 1.8, 2.3, 1.5, 1.9, 1.1, 1.5, 0.8, 1.0]
P4_S4 = [11.2, 10.4, 11.0, 10.1, 10.7, 9.9, 10.5, 9.6, 9.3, 9.8, 8.9, 10.0, 10.4, 9.5, 9.1, 8.2, 9.4, 10.2, 10.7, 10.0, 11.0, 10.2, 10.6, 9.9, 10.3, 9.8, 10.7, 10.2, 10.5, 9.2, 7.8, 6.7, 5.9, 6.3, 5.5, 6.6, 7.3, 6.9, 7.5, 6.7, 5.8, 5.1, 3.9, 3.2,
         3.0, 2.4, 2.9, 2.0, 2.4, 1.6, 2.0, 1.3, 1.6, 1.0, 0.7, 1.1]
P4_S5 = [11.5, 10.8, 11.6, 10.6, 11.2, 10.4, 10.9, 10.0, 9.5, 8.6, 5.8, 10.5, 10.8, 9.9, 8.8, 7.8, 6.2, 9.5, 11.3, 11.9, 11.5, 10.6, 11.2, 10.3, 11.4, 11.8, 11.1, 11.6, 10.7, 9.6, 8.3, 7.0, 6.0, 5.6, 5.2, 5.9, 6.4, 6.8, 6.4, 6.9, 5.5, 4.9, 3.5, 2.5,
         2.7, 3.2, 2.3, 2.8, 1.9, 2.4, 1.6, 2.0, 1.3, 1.7, 1.0, 0.6]
P4_M0 = [1.93, 1.88, 1.95, 1.9, 1.96, 1.9, 1.95, 1.9, 1.96, 1.9, 1.96, 1.91, 1.98, 1.93, 1.99, 1.95, 2.02, 1.97, 2.04, 2.0, 2.08, 2.04, 2.12, 2.05, 2.05, 1.94, 1.99, 2.02, 2.2, 2.25, 2.48, 2.52, 2.74, 2.78, 2.96, 2.88, 2.88, 2.74, 2.8, 2.6, 2.6, 2.25, 1.95,
         1.7, 2.0, 1.3, 1.7, 1.1, 1.4, 0.9, 1.2, 0.7, 1.0, 0.5, 0.8]
P4_M1 = [5.45, 5.2, 5.4, 5.25, 5.5, 5.3, 5.3, 4.85, 4.95, 4.6, 4.85, 4.55, 4.8, 4.5, 4.6, 4.15, 4.5, 4.35, 4.7, 4.5, 4.8, 4.6, 4.9, 4.7, 5.0, 4.8, 5.15, 5.1, 5.6, 5.5, 5.9, 5.65, 5.9, 5.55, 5.75, 5.4, 5.6, 5.2, 5.2, 4.5, 4.4, 3.5, 3.4,
         2.9, 3.2, 2.4, 2.8, 2.0, 2.3, 1.6, 1.9, 1.3, 1.5, 1.0, 0.8]
P4_M2 = [9.9, 9.2, 9.9, 9.3, 10.0, 9.4, 9.8, 8.4, 8.2, 7.0, 8.6, 8.2, 9.1, 7.8, 8.1, 7.0, 8.1, 7.6, 8.7, 7.9, 8.9, 8.0, 8.9, 8.0, 8.8, 7.9, 8.8, 7.8, 8.3, 7.0, 7.3, 6.2, 6.8, 5.8, 6.6, 5.9, 7.0, 6.2, 6.9, 5.5, 5.5, 3.9, 4.0,
         3.1, 2.7, 3.2, 2.3, 2.7, 1.9, 2.3, 1.6, 1.9, 1.2, 1.5, 0.9]
P4_M3 = [9.8, 10.7, 9.7, 10.6, 9.6, 10.4, 9.3, 9.9, 8.5, 9.5, 8.8, 10.0, 9.0, 9.8, 8.3, 9.4, 8.9, 10.6, 9.9, 11.0, 10.0, 10.8, 9.5, 10.2, 8.8, 9.8, 9.1, 10.3, 8.8, 9.0, 6.9, 7.1, 5.8, 6.6, 5.9, 7.3, 6.7, 7.8, 6.6, 6.8, 4.9, 4.8, 3.0,
         3.2, 2.5, 3.0, 2.1, 2.5, 1.7, 2.1, 1.3, 1.7, 1.0, 1.3, 0.7]
P4_M4 = [10.3, 11.2, 10.1, 11.0, 9.8, 10.7, 9.5, 10.2, 8.9, 9.8, 9.1, 10.4, 9.3, 10.1, 8.5, 9.5, 9.0, 10.6, 9.9, 11.1, 10.0, 10.9, 9.7, 10.6, 9.6, 10.9, 10.0, 10.8, 9.3, 9.4, 7.0, 7.2, 5.6, 6.5, 5.7, 7.2, 6.6, 7.7, 6.5, 7.0, 5.0, 5.0, 3.0,
         3.4, 2.7, 3.1, 2.2, 2.7, 1.8, 2.2, 1.5, 1.8, 1.1, 1.4, 0.8]
P4_M5 = [11.7, 10.6, 11.5, 10.4, 11.3, 9.9, 10.6, 9.2, 9.8, 8.6, 10.4, 9.6, 10.7, 8.9, 9.4, 7.7, 10.1, 11.1, 11.8, 10.9, 11.7, 10.4, 11.3, 10.5, 11.9, 11.0, 11.9, 10.5, 11.0, 8.8, 8.7, 6.3, 6.5, 5.2, 6.3, 5.8, 7.0, 6.1, 7.1, 5.6, 5.9, 3.8, 3.7,
         2.5, 3.0, 2.1, 2.6, 1.8, 2.2, 1.4, 1.8, 1.1, 1.5, 0.8, 1.2]
P4_GREY = [2.55, 2.75, 2.95, 3.05, 3.15, 3.35, 3.45, 4.0, 4.05, 4.1, 4.15, 4.2, 4.25, 4.3, 4.4, 4.5, 4.6, 4.85, 4.95, 5.05, 5.2, 5.3, 5.4, 5.5, 5.6, 5.7, 5.8, 5.9, 6.0,
           7.2, 7.3, 7.4, 7.5, 7.6, 7.9, 8.0, 8.1, 8.2, 8.3, 8.4, 9.6, 9.7, 9.8, 9.9, 10.0, 10.1, 10.2, 10.3, 10.7, 10.8, 10.9, 11.0, 11.1, 11.2, 11.3,
           11.4, 11.5, 11.6, 11.7, 11.8, 11.9, 12.0, 12.1, 12.2, 12.3, 12.4, 12.5, 12.6, 12.7, 12.8, 12.9, 13.0, 13.1]
P4_DARK = [4.15, 4.2, 4.3, 9.7, 9.8, 10.0, 11.0, 11.2, 11.3, 11.4, 11.6, 11.7, 12.4, 12.5, 12.7, 12.9]
P4_ORANGE = [4.5, 11.0, 11.1, 11.2, 11.3, 11.45, 11.6, 11.75, 11.85, 12.6, 12.7, 12.8, 12.9, 13.0, 13.1, 13.2, 13.3]

RED_LINES = [7.93, 9.51, 6.95, 10.55]
BLACK_LINES = [None, None, None, 7.79]
Y_RANGES = [(0.001, 10.0), (0.001, 10.0), (0.001, 10.0), (0.12, 12.05)]
Y_TICK = [2.5, 2.5, 2.5, 5.0]

PANELS = [
    ([P1_L0, P1_L1, P1_L2, P1_L3, P1_L4, P1_L5], [P1_S0, P1_S1, P1_S2, P1_S3, P1_S4, P1_S5],
     [P1_M0, P1_M1, P1_M2, P1_M3, P1_M4, P1_M5], P1_GREY, P1_DARK, P1_ORANGE),
    ([P2_L0, P2_L1, P2_L2, P2_L3, P2_L4, P2_L5], [P2_S0, P2_S1, P2_S2, P2_S3, P2_S4, P2_S5],
     [P2_M0, P2_M1, P2_M2, P2_M3, P2_M4, P2_M5], P2_GREY, P2_DARK, P2_ORANGE),
    ([P3_L0, P3_L1, P3_L2, P3_L3, P3_L4, P3_L5], [P3_S0, P3_S1, P3_S2, P3_S3, P3_S4, P3_S5],
     [P3_M0, P3_M1, P3_M2, P3_M3, P3_M4, P3_M5], P3_GREY, P3_DARK, P3_ORANGE),
    ([P4_L0, P4_L1, P4_L2, P4_L3, P4_L4, P4_L5], [P4_S0, P4_S1, P4_S2, P4_S3, P4_S4, P4_S5],
     [P4_M0, P4_M1, P4_M2, P4_M3, P4_M4, P4_M5], P4_GREY, P4_DARK, P4_ORANGE),
]

W = 776
XR = Range1d(-1.04, 14.17)
BT = 14         # inner top/bottom border of each panel (overlapped by the neighbour panel)
FRAME_H = 204
TOP_1 = 12
BOTTOM_4 = 72
LEG_H = 85


def style_axis(ax, interval, show, fmt):
    ax.ticker = SingleIntervalTicker(interval=interval, num_minor_ticks=5)
    if fmt:
        ax.formatter = PrintfTickFormatter(format="%.1f")
    ax.major_tick_in = 8
    ax.major_tick_out = 0
    ax.minor_tick_in = 4
    ax.minor_tick_out = 0
    ax.major_tick_line_color = "black"
    ax.minor_tick_line_color = "black"
    ax.major_tick_line_width = 1.5
    ax.minor_tick_line_width = 1.2
    ax.axis_line_color = "#262626"
    ax.axis_line_width = 2
    ax.major_label_text_font = FONT
    if show:
        ax.major_label_text_font_size = "24px"
        ax.major_label_text_color = "black"
        ax.major_label_standoff = 10
    else:
        ax.major_label_text_font_size = "1px"
        ax.major_label_text_color = None
        ax.major_label_standoff = 0


def make_panel(i):
    lines, scats, mids, grey, dark, orange = PANELS[i]
    first, last = i == 0, i == 3
    top_b = TOP_1 if first else BT
    bot_b = BOTTOM_4 if last else BT
    p = figure(width=W, height=top_b + FRAME_H + bot_b, x_range=XR, y_range=Range1d(*Y_RANGES[i]),
               output_backend="svg", toolbar_location=None,
               min_border_left=145, min_border_right=73, min_border_top=top_b, min_border_bottom=bot_b)
    p.grid.visible = False
    p.outline_line_color = None
    p.border_fill_color = None
    p.background_fill_color = "white"

    xa = p.xaxis[0]
    ya = p.yaxis[0]
    style_axis(xa, 2.5, last, True)
    style_axis(ya, Y_TICK[i], True, not last)
    top = LinearAxis()
    style_axis(top, 2.5, False, True)
    p.add_layout(top, "above")
    right = LinearAxis()
    style_axis(right, Y_TICK[i], False, not last)
    p.add_layout(right, "right")

    ya.axis_label = Y_LABEL
    ya.axis_label_text_font = FONT
    ya.axis_label_text_font_size = "28px"
    ya.axis_label_text_font_style = "normal"
    ya.axis_label_text_color = "black"
    ya.axis_label_standoff = 7
    if last:
        xa.major_label_standoff = 6
        xa.axis_label = X_LABEL
        xa.axis_label_text_font = FONT
        xa.axis_label_text_font_size = "30px"
        xa.axis_label_text_font_style = "normal"
        xa.axis_label_text_color = "black"
        xa.axis_label_standoff = 1

    p.add_layout(Title(text=GALAXIES[i], align="center", text_font=FONT, text_font_size="27px",
                       text_font_style="bold", text_color="black", standoff=6), "left")

    p.vspan(x=grey, line_color="grey", line_alpha=0.22, line_width=2)
    p.vspan(x=dark, line_color="grey", line_alpha=0.3, line_width=2)
    p.vspan(x=orange, line_color="#f5a31a", line_alpha=0.8, line_width=2)

    for c, lv, sv, mv in zip(COLORS, lines, scats, mids):
        xs = TIME[:len(sv)] + TIME_MID[:len(mv)]
        ys = sv + mv
        p.scatter(xs, ys, size=7, fill_color=c, fill_alpha=0.5, line_color=c, line_alpha=0.3)
        p.line(TIME[:len(lv)], lv, line_color=c, line_width=4.5, line_alpha=0.95,
               line_join="round", line_cap="round")

    p.add_layout(Span(location=RED_LINES[i], dimension="height", line_color="red",
                      line_width=4, line_dash="16 7"))
    if BLACK_LINES[i] is not None:
        p.add_layout(Span(location=BLACK_LINES[i], dimension="height", line_color="black",
                          line_width=4, line_dash="16 7"))
    if not first:
        p.margin = (-2 * BT, 0, 0, 0)
    return p


# legend strip above the panels
lg = figure(width=W, height=LEG_H, x_range=Range1d(0, 1), y_range=Range1d(0, 1),
            output_backend="svg", toolbar_location=None, min_border=0,
            x_axis_location=None, y_axis_location=None, frame_align=False)
lg.grid.visible = False
lg.outline_line_color = None
lg.border_fill_color = None
lg.background_fill_color = None
handles = [lg.line(x=[NAN, NAN], y=[NAN, NAN], line_color=c, line_width=4.5) for c in COLORS]
for idx, x0 in (((0, 1, 2), 86), ((3, 4, 5), 434)):
    leg = Legend(items=[LegendItem(label=RADIUS_LABELS[j], renderers=[handles[j]]) for j in idx],
                 location=(x0, 1), orientation="vertical", glyph_width=45, glyph_height=20,
                 label_standoff=14, spacing=1, padding=0, margin=0, border_line_color=None,
                 background_fill_alpha=0, label_text_font=FONT, label_text_font_size="20px",
                 label_height=24, label_text_color="black")
    lg.add_layout(leg)

layout = column(lg, *[make_panel(i) for i in range(4)])
open("out.html", "w").write(file_html(layout, INLINE))
